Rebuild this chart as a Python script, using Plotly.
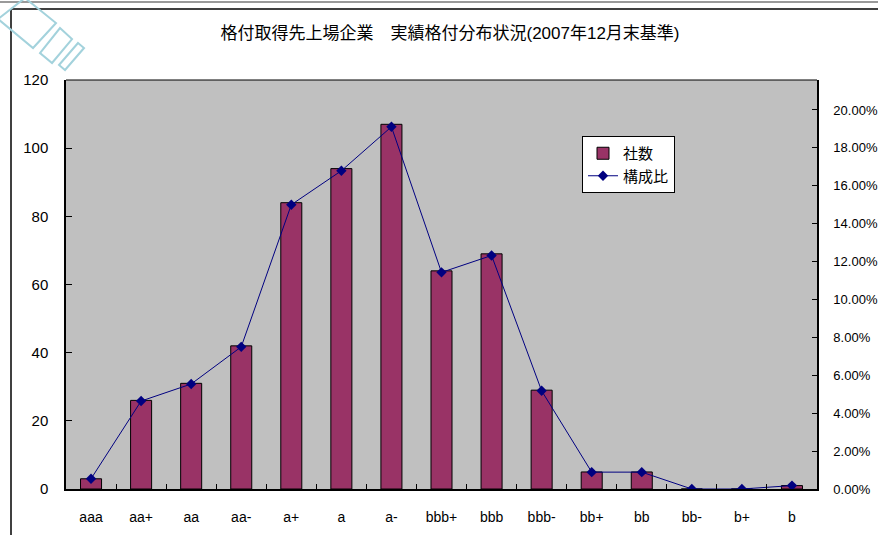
import plotly.graph_objects as go

# Rating categories and observed distribution (end of Dec 2007)
ratings = ["aaa", "aa+", "aa", "aa-", "a+", "a", "a-", "bbb+", "bbb",
           "bbb-", "bb+", "bb", "bb-", "b+", "b"]
counts = [3, 26, 31, 42, 84, 94, 107, 64, 69, 29, 5, 5, 0, 0, 1]
shares = [0.0054, 0.0464, 0.0554, 0.0750, 0.1500, 0.1679, 0.1911, 0.1143,
          0.1232, 0.0518, 0.0089, 0.0089, 0.0, 0.0, 0.0018]
share_ticks = [0.00, 0.02, 0.04, 0.06, 0.08, 0.10, 0.12, 0.14, 0.16, 0.18, 0.20]

W, H = 878, 535
L, R, T, B = 66, 817, 80, 489  # plot area in pixels

FONT = "Liberation Sans, Arial, Noto Sans CJK JP, sans-serif"


def px(x, y):
    """Pixel position -> paper coordinates."""
    return (x - L) / (R - L), (B - y) / (B - T)


def poly(points):
    pts = [px(x, y) for x, y in points]
    d = "M " + " L ".join(f"{a:.4f},{b:.4f}" for a, b in pts) + " Z"
    return dict(type="path", xref="paper", yref="paper", path=d,
                line=dict(color="#A3D2DC", width=2), fillcolor="rgba(0,0,0,0)",
                layer="above")


fig = go.Figure()

fig.add_trace(go.Bar(
    x=ratings, y=counts, name="社数",
    marker=dict(color="#993366", line=dict(color="#000000", width=1)),
    width=0.42,
))

fig.add_trace(go.Scatter(
    x=ratings, y=shares, name="構成比", yaxis="y2",
    mode="lines+markers",
    line=dict(color="#000080", width=1),
    marker=dict(symbol="diamond", size=8, color="#000080"),
))

shapes = [
    # frame lines of the chart sheet
    dict(type="line", xref="paper", yref="paper",
         x0=px(0, 2)[0], x1=px(W, 2)[0], y0=px(0, 2)[1], y1=px(0, 2)[1],
         line=dict(color="#9a9a9a", width=2)),
    dict(type="line", xref="paper", yref="paper",
         x0=px(11, 9)[0], x1=px(W, 9)[0], y0=px(0, 9)[1], y1=px(0, 9)[1],
         line=dict(color="#000000", width=1.5)),
    dict(type="line", xref="paper", yref="paper",
         x0=px(11, 9)[0], x1=px(11, 9)[0], y0=px(0, 9)[1], y1=px(0, H)[1],
         line=dict(color="#000000", width=1.5)),
    # corner stamp
    poly([(25, -2), (56, 23), (33, 48), (-2, 19)]),
    poly([(60, 28), (72, 39), (52, 63), (40, 53)]),
    poly([(78, 43), (84, 48), (65, 70), (59, 65)]),
    # top edge of the plot area
    dict(type="line", xref="paper", yref="paper", x0=0, x1=1, y0=1, y1=1,
         line=dict(color="#000000", width=1)),
]

fig.update_layout(
    width=W, height=H,
    margin=dict(l=L, r=W - R, t=T, b=H - B, pad=0, autoexpand=False),
    paper_bgcolor="#FFFFFF",
    plot_bgcolor="#C0C0C0",
    font=dict(family=FONT, size=14, color="#000000"),
    title=dict(text="格付取得先上場企業　実績格付分布状況(2007年12月末基準)",
               x=450 / W, xanchor="center", xref="container",
               y=1 - 33 / H, yanchor="middle", yref="container",
               font=dict(size=17, family=FONT)),
    showlegend=True,
    legend=dict(x=px(582, 136)[0], y=px(582, 136)[1], xanchor="left", yanchor="top",
                bgcolor="#FFFFFF", bordercolor="#000000", borderwidth=1,
                font=dict(size=15, family=FONT), tracegroupgap=0,
                itemwidth=30),
    shapes=shapes,
    xaxis=dict(
        type="category", range=[-0.5, len(ratings) - 0.5], automargin=False,
        showgrid=False, zeroline=False,
        showline=True, linecolor="#000000", linewidth=2, mirror=False,
        ticks="inside", ticklen=5, tickcolor="#000000", tickson="boundaries",
        tickfont=dict(size=14), ticklabelstandoff=14,
    ),
    yaxis=dict(
        range=[0, 120], dtick=20, showgrid=False, zeroline=False, automargin=False,
        showline=True, linecolor="#000000", linewidth=1.5,
        ticks="inside", ticklen=6, tickcolor="#000000",
        tickfont=dict(size=15), ticklabelstandoff=13,
    ),
    yaxis2=dict(
        overlaying="y", side="right", automargin=False,
        range=[0, 0.2158], tickvals=share_ticks, tickformat=".2%",
        showgrid=False, zeroline=False,
        showline=True, linecolor="#000000", linewidth=1.5,
        ticks="inside", ticklen=5, tickcolor="#000000",
        tickfont=dict(size=13), ticklabelstandoff=12,
    ),
)

fig.write_html("out.html")
